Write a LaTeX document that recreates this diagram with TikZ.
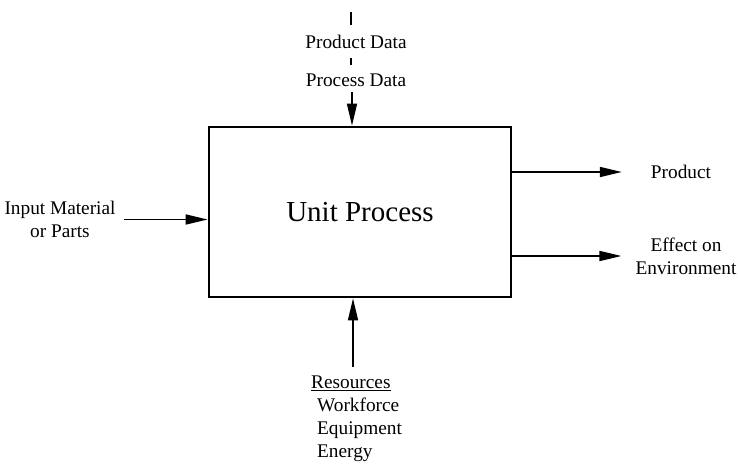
\documentclass[tikz,border=0pt]{standalone}
\usepackage{fontspec}
\setmainfont{Liberation Serif}
\usetikzlibrary{arrows.meta,positioning}

\begin{document}
\begin{tikzpicture}[
  x=1pt, y=-1pt,
  flow/.style={line width=1.6pt, -{Triangle[length=22pt,width=10pt]}},
  tick/.style={line width=1.6pt},
  label text/.style={font=\fontsize{19.3}{23}\selectfont, align=center, inner sep=0pt},
  process box/.style={draw, line width=2.8pt, minimum width=302pt,
    minimum height=170pt, inner sep=0pt, font=\fontsize{29}{34}\selectfont},
]
  \useasboundingbox (0,0) rectangle (738,463);

  % the process block
  \node[process box] (unit) at (360,212) {Unit Process};

  % data coming in from the top
  \node[label text] (pdata) at (356,42) {Product Data};
  \node[label text] (pcdata) at (356,80) {Process Data};
  \coordinate (tick a) at (351,12);
  \coordinate (tick b) at (351,58);
  \coordinate (top in) at (352,92);
  \draw[tick] (tick a) -- ++(0,13);
  \draw[tick] (tick b) -- ++(0,7);
  \draw[flow] (top in) -- (top in |- unit.north);

  % input on the left
  \node[label text] (input) at (60,219.5) {Input Material\\or Parts};
  \draw[flow] ([xshift=8pt]input.east) -- (unit.west |- input.east);

  % outputs on the right
  \node[label text] (product) at (681,172) {Product};
  \node[label text] (effect) at (686,256) {Effect on\\Environment};
  \draw[flow] (unit.east |- product) -- ([xshift=-29pt]product.west);
  \draw[flow] (unit.east |- effect) -- ([xshift=-14pt]effect.west);

  % resources from below
  \node[label text, align=left, anchor=north west] (res) at (311,376)
    {\underline{Resources}\\\hspace{6pt}Workforce\\\hspace{6pt}Equipment\\\hspace{6pt}Energy};
  \coordinate (bottom in) at (353,367);
  \draw[flow] (bottom in) -- (bottom in |- unit.south);
\end{tikzpicture}
\end{document}
